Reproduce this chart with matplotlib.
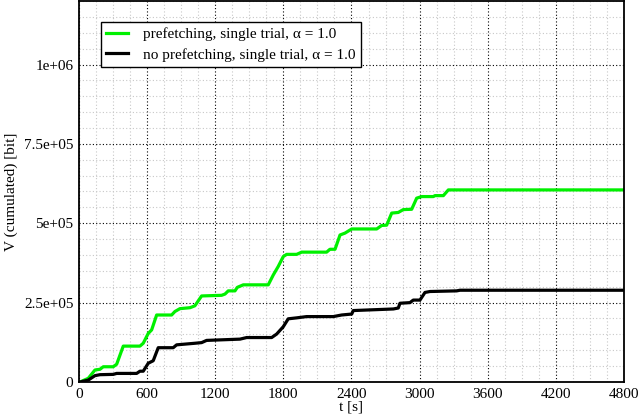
import matplotlib.pyplot as plt
from matplotlib.ticker import MultipleLocator

plt.rcParams['font.family'] = ['Liberation Serif', 'DejaVu Serif']

# prefetching, single trial
t_pref = [0, 9, 82, 141, 185, 214, 302, 332, 390, 537, 566, 610, 640, 684, 816, 845,
          889, 978, 1021, 1080, 1256, 1286, 1315, 1374, 1394, 1447, 1667, 1711, 1755,
          1799, 1829, 1917, 1961, 2181, 2210, 2255, 2299, 2343, 2402, 2622, 2666, 2710,
          2754, 2812, 2856, 2930, 2974, 3018, 3121, 3135, 3209, 3253, 4800]
v_pref = [0, 0, 11.6e3, 37.8e3, 40e3, 48e3, 48e3, 56e3, 113e3, 113e3, 122e3, 153e3,
          164e3, 211e3, 211e3, 222e3, 231e3, 234e3, 240e3, 271e3, 273e3, 277e3, 287e3,
          287e3, 298e3, 306e3, 306e3, 337e3, 364e3, 395e3, 402e3, 402e3, 409e3, 409e3,
          418e3, 418e3, 463e3, 469e3, 482e3, 482e3, 493e3, 494e3, 532e3, 534e3, 543e3,
          544e3, 579e3, 584e3, 584e3, 587e3, 587e3, 605e3, 605e3]

# no prefetching, single trial
t_nopref = [0, 9, 82, 141, 185, 302, 332, 508, 537, 566, 610, 654, 698, 830, 860, 1021,
            1080, 1124, 1418, 1477, 1697, 1741, 1799, 1843, 1917, 2005, 2240, 2313, 2402,
            2416, 2769, 2812, 2827, 2915, 2944, 3003, 3047, 3091, 3326, 3355, 4800]
v_nopref = [0, 0, 6e3, 20e3, 23e3, 24e3, 27e3, 27e3, 34e3, 34e3, 59e3, 67e3, 108e3,
            108e3, 117e3, 122e3, 124e3, 131e3, 135e3, 140e3, 140e3, 151e3, 174e3, 199e3,
            202e3, 206e3, 206e3, 211e3, 214e3, 225e3, 230e3, 233e3, 248e3, 250e3, 258e3,
            258e3, 282e3, 285e3, 287e3, 289e3, 289e3]

xticks = [0, 600, 1200, 1800, 2400, 3000, 3600, 4200, 4800]
yticks = [0, 2.5e5, 5e5, 7.5e5, 1e6]
ytick_labels = ['0', '2.5e+05', '5e+05', '7.5e+05', '1e+06']

fig = plt.figure(figsize=(6.41, 4.20), dpi=100)
ax = fig.add_axes([0.1232, 0.0905, 0.8503, 0.9071])

ax.plot(t_pref, v_pref, color='#00f000', lw=2.3, label='prefetching, single trial, α = 1.0')
ax.plot(t_nopref, v_nopref, color='black', lw=2.3, label='no prefetching, single trial, α = 1.0')

ax.set_xlim(0, 4800)
ax.set_ylim(0, 1.2e6)
ax.set_xticks(xticks)
ax.set_yticks(yticks)
ax.set_yticklabels(ytick_labels)
ax.xaxis.set_minor_locator(MultipleLocator(150))
ax.yaxis.set_minor_locator(MultipleLocator(5e4))

ax.grid(which='major', color='black', linestyle=(0, (1, 2)), lw=0.8)
ax.grid(which='minor', color='#c8c8c8', linestyle=(0, (1, 2)), lw=0.8)
ax.tick_params(which='both', length=0, labelsize=11, pad=4)
for s in ax.spines.values():
    s.set_linewidth(1.3)

ax.set_xlabel('t [s]', fontsize=11, labelpad=0)
ax.set_ylabel('V (cumulated) [bit]', fontsize=11, labelpad=4)

leg = ax.legend(loc='upper left', bbox_to_anchor=(0.040, 0.945), fontsize=11,
                fancybox=False, framealpha=1, edgecolor='black', handlelength=1.4,
                handletextpad=1.0, borderpad=0.35, labelspacing=0.45, borderaxespad=0)
leg.get_frame().set_linewidth(1.0)

fig.savefig('out.png', dpi=100)
